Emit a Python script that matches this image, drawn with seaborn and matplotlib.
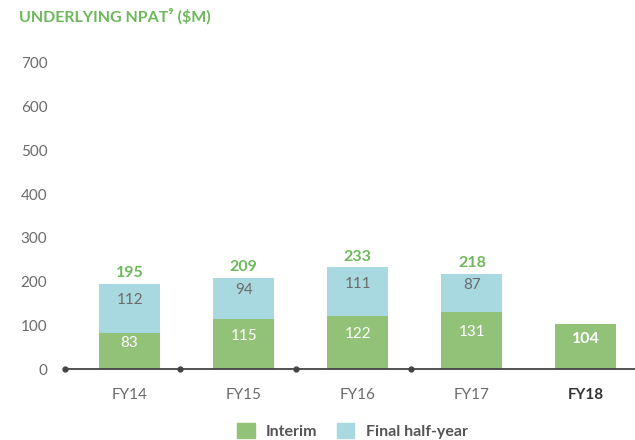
import matplotlib.pyplot as plt
import numpy as np
import pandas as pd
import seaborn as sns
from matplotlib.patches import Patch

# data
years = ["FY14", "FY15", "FY16", "FY17", "FY18"]
interim = [83, 115, 122, 131, 104]
final_half = [112, 94, 111, 87, 0]
totals = [195, 209, 233, 218, None]
y_ticks = [0, 100, 200, 300, 400, 500, 600, 700]

GREEN = "#92c178"
BLUE = "#a8d9e0"
TITLE_GREEN = "#6cb85a"
GREY = "#6b6b6b"

sns.set_style("white")
plt.rcParams["font.family"] = ["Lato", "DejaVu Sans"]

df = pd.DataFrame({"year": years, "interim": interim, "final": final_half})
df["stack"] = df["interim"] + df["final"]

fig = plt.figure(figsize=(6.35, 4.4), dpi=100)
ax = fig.add_axes([64 / 635, 71 / 440, 571 / 635, 306 / 440])

# blue = full stack, green drawn over it
sns.barplot(data=df, x="year", y="stack", color=BLUE, width=0.535,
            saturation=1, linewidth=0, ax=ax)
sns.barplot(data=df, x="year", y="interim", color=GREEN, width=0.535,
            saturation=1, linewidth=0, ax=ax)

ax.set_xlim(-0.575, 4.43)
ax.set_ylim(0, 700)
ax.set_yticks(y_ticks)
ax.set_yticklabels([str(v) for v in y_ticks], fontsize=11, color=GREY)
ax.tick_params(axis="y", length=0, pad=12)
ax.tick_params(axis="x", length=0, pad=14)
for lbl in ax.get_xticklabels():
    lbl.set_fontsize(11)
    lbl.set_color(GREY)
ax.get_xticklabels()[-1].set_fontweight("bold")
ax.get_xticklabels()[-1].set_color("#333333")
ax.set_xlabel("")
ax.set_ylabel("")

for side in ["top", "right", "left"]:
    ax.spines[side].set_visible(False)
ax.spines["bottom"].set_color("#444444")
ax.spines["bottom"].set_linewidth(1.3)

# separator dots on the baseline
ax.plot(np.arange(4) - 0.565 + np.arange(4) * 0.01, [0] * 4, "o",
        color="#444444", markersize=3.5, clip_on=False, zorder=5)

# value labels (sit a little above segment centres, as in the source)
for i, (a, b, t) in enumerate(zip(interim, final_half, totals)):
    if b:
        ax.text(i, a / 2 + 18, str(a), ha="center", va="center",
                color="white", fontsize=11)
        ax.text(i, a + b / 2 + 18, str(b), ha="center", va="center",
                color=GREY, fontsize=11)
    else:
        ax.text(i, a / 2 + 16, str(a), ha="center", va="center",
                color="white", fontsize=11.5, fontweight="bold")
    if t:
        ax.text(i, t + 8, str(t), ha="center", va="bottom",
                color=TITLE_GREEN, fontsize=11.5, fontweight="bold")

fig.text(19 / 635, 1 - 16 / 440, "UNDERLYING NPAT\u2079 (\\$M)",
         ha="left", va="center", color=TITLE_GREEN, fontsize=11.5,
         fontweight="bold")

handles = [Patch(color=GREEN, label="Interim"),
           Patch(color=BLUE, label="Final half-year")]
leg = fig.legend(handles=handles, loc="center", ncol=2,
                 bbox_to_anchor=(0.555, 1 - 431 / 440), frameon=False,
                 handlelength=1.1, handleheight=1.1, handletextpad=0.7,
                 columnspacing=1.2, prop={"size": 11.5, "weight": "bold"})
for txt in leg.get_texts():
    txt.set_color("#555555")

fig.savefig("out.png", dpi=100)
plt.close(fig)
